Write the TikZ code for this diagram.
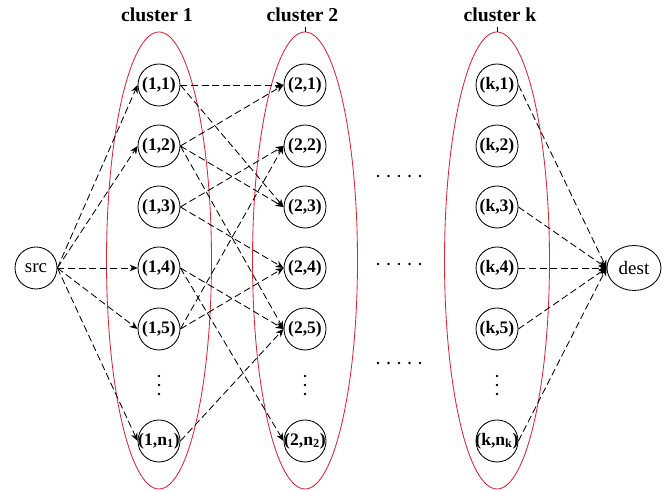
\documentclass[tikz,border=0pt]{standalone}
\usepackage{fontspec}
\setmainfont{Liberation Serif}
\usepackage{tikz}
\usetikzlibrary{arrows.meta, shapes.geometric}

\definecolor{clusterred}{RGB}{222,35,55}

\begin{document}
\begin{tikzpicture}[
		vertex/.style={draw, circle, minimum size=1.05cm, inner sep=-2pt, line width=0.6pt,
			font=\fontsize{12.5}{14}\selectfont\bfseries},
		endpoint/.style={draw, ellipse, inner sep=0pt, line width=0.6pt,
			font=\fontsize{13.5}{15}\selectfont},
		cluster/.style={draw=clusterred, ellipse, minimum width=2.625cm, minimum height=11.425cm,
			line width=0.6pt},
		ctitle/.style={anchor=base, font=\fontsize{14}{16}\selectfont\bfseries},
		arrow/.style={-{Stealth[length=2mm, width=1.7mm]}, line width=0.6pt,
			dash pattern=on 5pt off 2.5pt},
		]
		\useasboundingbox (0,0) rectangle (16.675,12.275);
		
		%% ── КЛАСТЕРЫ ───────────────────────────────────────────
		\node[cluster] (C1) at (3.975, 5.7625)  {};
		\node[cluster] (C2) at (7.625, 5.7625)  {};
		\node[cluster] (Ck) at (12.425, 5.7625) {};
		
		\node[ctitle] (t1) at (3.925, 11.73) {cluster 1};
		\node[ctitle] (t2) at (7.5625, 11.73) {cluster 2};
		\node[ctitle] (tk) at (12.5, 11.73) {cluster k};
		
		\draw[line width=0.5pt] (C2.north) -- ++(0,0.12);
		\draw[line width=0.5pt] (Ck.north) -- ++(0,0.12);
		
		%% ── ИСТОЧНИК И СТОК ────────────────────────────────────
		\node[endpoint, minimum width=1.05cm, minimum height=1.05cm] (src) at (0.9, 5.575) {src};
		\node[endpoint, minimum width=1.35cm, minimum height=1.125cm] (dest) at (15.85, 5.575) {dest};
		
		%% ── кластер 1
		\node[vertex] (n11) at (3.975, 10.15)  {(1,1)};
		\node[vertex] (n12) at (3.975, 8.625)  {(1,2)};
		\node[vertex] (n13) at (3.975, 7.1)    {(1,3)};
		\node[vertex] (n14) at (3.975, 5.575)  {(1,4)};
		\node[vertex] (n15) at (3.975, 4.05)   {(1,5)};
		\node[vertex] (n1n) at (3.975, 1.25)   {(1,n\textsubscript{1})};
		
		%% ── кластер 2
		\node[vertex] (n21) at (7.625, 10.15)  {(2,1)};
		\node[vertex] (n22) at (7.625, 8.625)  {(2,2)};
		\node[vertex] (n23) at (7.625, 7.1)    {(2,3)};
		\node[vertex] (n24) at (7.625, 5.575)  {(2,4)};
		\node[vertex] (n25) at (7.625, 4.05)   {(2,5)};
		\node[vertex] (n2n) at (7.625, 1.25)   {(2,n\textsubscript{2})};
		
		%% ── кластер k
		\node[vertex] (nk1) at (12.425, 10.15) {(k,1)};
		\node[vertex] (nk2) at (12.425, 8.625) {(k,2)};
		\node[vertex] (nk3) at (12.425, 7.1)   {(k,3)};
		\node[vertex] (nk4) at (12.425, 5.575) {(k,4)};
		\node[vertex] (nk5) at (12.425, 4.05)  {(k,5)};
		\node[vertex] (nkn) at (12.425, 1.25)  {(k,n\textsubscript{k})};
		
		% многоточия
		\foreach \x in {3.975, 7.625, 12.425}
		\foreach \y in {2.875, 2.65, 2.425}
		\fill (\x,\y) circle (0.032);
		\foreach \y in {7.875, 5.675, 3.2}
		\foreach \x in {9.45, 9.7125, 9.975, 10.2375, 10.5}
		\fill (\x,\y) circle (0.032);
		
		%% ── РЁБРА ──────────────────────────────────────────────
		\foreach \t in {n11, n12, n14, n15, n1n}
		\draw[arrow] (src.east) -- (\t.west);
		
		\draw[arrow] (n11.east) -- (n21.west);
		\draw[arrow] (n11.east) -- (n23.west);
		\draw[arrow] (n12.east) -- (n21.west);
		\draw[arrow] (n12.east) -- (n23.west);
		\draw[arrow] (n12.east) -- (n25.west);
		\draw[arrow] (n13.east) -- (n22.west);
		\draw[arrow] (n13.east) -- (n24.west);
		\draw[arrow] (n14.east) -- (n25.west);
		\draw[arrow] (n14.east) -- (n2n.west);
		\draw[arrow] (n15.east) -- (n22.west);
		\draw[arrow] (n15.east) -- (n24.west);
		\draw[arrow] (n1n.east) -- (n25.west);
		
		\foreach \s in {nk1, nk3, nk4, nk5, nkn}
		\draw[arrow] (\s.east) -- (dest.west);
		
	\end{tikzpicture}
\end{document}
